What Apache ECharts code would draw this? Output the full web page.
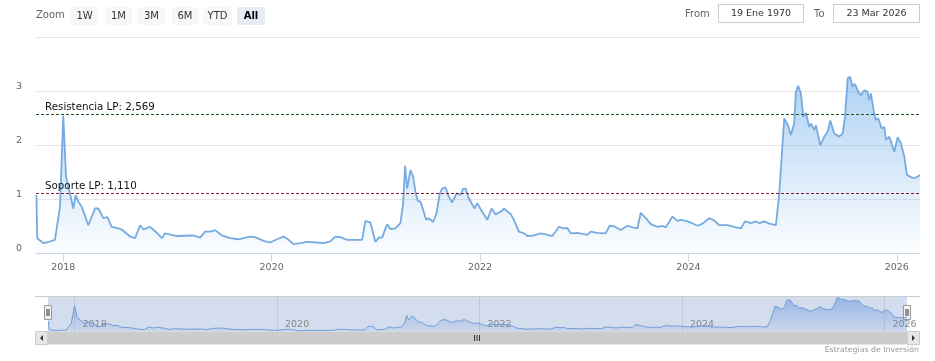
<!DOCTYPE html>
<html>
<head>
<meta charset="utf-8">
<script src="https://cdn.jsdelivr.net/npm/echarts@6/dist/echarts.min.js"></script>
<style>html,body{margin:0;padding:0;background:#fff}#c{width:935px;height:361px}</style>
</head>
<body>
<div id="c"></div>
<script>
// ---- data (decimal years) ----
const years = [2017.742,2017.750,2017.808,2017.840,2017.920,2017.937,2017.968,2018.000,2018.026,2018.064,2018.096,2018.119,2018.144,2018.177,2018.240,2018.305,2018.336,2018.384,2018.423,2018.465,2018.529,2018.561,2018.641,2018.689,2018.737,2018.769,2018.833,2018.850,2018.898,2018.946,2018.977,2019.090,2019.249,2019.314,2019.362,2019.410,2019.458,2019.522,2019.602,2019.682,2019.730,2019.794,2019.842,2019.922,2019.986,2020.051,2020.114,2020.162,2020.210,2020.275,2020.339,2020.435,2020.499,2020.563,2020.611,2020.659,2020.724,2020.787,2020.868,2020.900,2020.948,2020.996,2021.027,2021.060,2021.108,2021.140,2021.188,2021.236,2021.262,2021.281,2021.300,2021.332,2021.358,2021.380,2021.402,2021.428,2021.454,2021.483,2021.508,2021.550,2021.582,2021.614,2021.637,2021.668,2021.700,2021.733,2021.774,2021.813,2021.835,2021.861,2021.892,2021.947,2021.973,2022.021,2022.069,2022.111,2022.149,2022.213,2022.229,2022.293,2022.325,2022.373,2022.421,2022.454,2022.517,2022.581,2022.630,2022.694,2022.758,2022.805,2022.838,2022.870,2022.934,2023.030,2023.062,2023.126,2023.206,2023.244,2023.286,2023.350,2023.415,2023.463,2023.511,2023.542,2023.591,2023.639,2023.703,2023.751,2023.783,2023.847,2023.895,2023.927,2023.975,2024.023,2024.087,2024.136,2024.199,2024.247,2024.295,2024.376,2024.439,2024.504,2024.542,2024.600,2024.648,2024.680,2024.728,2024.776,2024.840,2024.872,2024.920,2024.953,2024.984,2025.016,2025.032,2025.054,2025.080,2025.102,2025.128,2025.160,2025.176,2025.208,2025.224,2025.266,2025.304,2025.337,2025.362,2025.400,2025.448,2025.481,2025.503,2025.529,2025.552,2025.575,2025.597,2025.631,2025.656,2025.688,2025.720,2025.736,2025.752,2025.778,2025.800,2025.822,2025.855,2025.880,2025.896,2025.928,2025.976,2026.009,2026.040,2026.072,2026.098,2026.137,2026.169,2026.201,2026.223];
const values = [1.08,0.28,0.19,0.20,0.25,0.25,0.86,2.55,1.42,1.11,0.83,1.08,0.96,0.86,0.52,0.83,0.83,0.65,0.67,0.49,0.46,0.44,0.31,0.28,0.52,0.44,0.49,0.50,0.38,0.28,0.37,0.32,0.33,0.29,0.40,0.40,0.43,0.33,0.28,0.26,0.28,0.31,0.30,0.23,0.20,0.26,0.31,0.25,0.17,0.19,0.21,0.20,0.19,0.22,0.31,0.30,0.25,0.25,0.25,0.60,0.57,0.21,0.29,0.29,0.54,0.45,0.46,0.56,0.93,1.62,1.20,1.54,1.42,1.14,0.97,0.96,0.80,0.62,0.65,0.58,0.74,1.11,1.20,1.22,1.05,0.94,1.11,1.08,1.19,1.20,1.02,0.83,0.93,0.77,0.62,0.83,0.72,0.79,0.83,0.73,0.62,0.40,0.37,0.32,0.33,0.37,0.35,0.32,0.49,0.46,0.47,0.37,0.38,0.34,0.40,0.38,0.37,0.51,0.50,0.43,0.51,0.48,0.46,0.75,0.65,0.54,0.49,0.51,0.48,0.68,0.60,0.62,0.60,0.57,0.51,0.55,0.65,0.61,0.52,0.52,0.49,0.46,0.59,0.56,0.59,0.56,0.59,0.55,0.52,1.11,2.50,2.38,2.19,2.41,2.99,3.10,2.96,2.53,2.60,2.34,2.40,2.28,2.37,2.00,2.16,2.25,2.46,2.22,2.16,2.22,2.53,3.24,3.27,3.09,3.14,2.99,2.93,3.02,2.99,2.84,2.96,2.65,2.47,2.50,2.31,2.34,2.10,2.16,1.88,2.15,2.04,1.79,1.45,1.41,1.39,1.42,1.45];
const yearTicks = [2018, 2020, 2022, 2024, 2026];
const yTicks = [0, 1, 2, 3, 4];
const resistance = 2.569;
const support = 1.110;
const resistanceLabel = 'Resistencia LP: 2,569';
const supportLabel = 'Soporte LP: 1,110';
const rangeButtons = ['1W', '1M', '3M', '6M', 'YTD', 'All'];
const fromDate = '19 Ene 1970';
const toDate = '23 Mar 2026';
const credit = 'Estrategias de Inversión';
const xMin = 2017.738, xMax = 2026.223;

const FONT = '"DejaVu Sans", Verdana, sans-serif';
const seriesData = years.map((y, i) => [y, values[i]]);

// ---- decorations (buttons, inputs, scrollbar) ----
const btnGeom = [[71,27],[105,27],[138,27],[172,26],[203,29],[237,28]];
const graphics = [];
graphics.push({type:'text', left:36, top:10, style:{text:'Zoom', fill:'#666', font:'10px '+FONT}});
rangeButtons.forEach((b, i) => {
  const sel = b === 'All';
  graphics.push({type:'rect', shape:{x:btnGeom[i][0], y:7, width:btnGeom[i][1], height:18, r:2},
    style:{fill: sel ? '#e6ebf5' : '#f7f7f7'}});
  graphics.push({type:'text', x:btnGeom[i][0]+btnGeom[i][1]/2, y:16,
    style:{text:b, fill: sel ? '#000' : '#333', font:(sel?'bold ':'')+'10px '+FONT, align:'center', verticalAlign:'middle'}});
});
graphics.push({type:'text', x:685, y:14, style:{text:'From', fill:'#666', font:'10px '+FONT, verticalAlign:'middle'}});
graphics.push({type:'rect', shape:{x:718.5, y:4.5, width:85, height:18}, style:{fill:'#fff', stroke:'#ccc', lineWidth:1}});
graphics.push({type:'text', x:761, y:14, style:{text:fromDate, fill:'#333', font:'9.5px '+FONT, align:'center', verticalAlign:'middle'}});
graphics.push({type:'text', x:814, y:14, style:{text:'To', fill:'#666', font:'10px '+FONT, verticalAlign:'middle'}});
graphics.push({type:'rect', shape:{x:833.5, y:4.5, width:86, height:18}, style:{fill:'#fff', stroke:'#ccc', lineWidth:1}});
graphics.push({type:'text', x:876.5, y:14, style:{text:toDate, fill:'#333', font:'9.5px '+FONT, align:'center', verticalAlign:'middle'}});
// navigator outline
graphics.push({type:'line', shape:{x1:35, y1:296.5, x2:920, y2:296.5}, style:{stroke:'#ccc', lineWidth:1}});
// scrollbar
graphics.push({type:'rect', shape:{x:35, y:331.5, width:885, height:13}, style:{fill:'#cccccc'}});
graphics.push({type:'rect', shape:{x:35.5, y:331.5, width:12, height:13}, style:{fill:'#e6e6e6', stroke:'#cccccc', lineWidth:1}});
graphics.push({type:'rect', shape:{x:907.5, y:331.5, width:12, height:13}, style:{fill:'#e6e6e6', stroke:'#cccccc', lineWidth:1}});
graphics.push({type:'polygon', shape:{points:[[43,335],[43,341],[40,338]]}, style:{fill:'#333'}});
graphics.push({type:'polygon', shape:{points:[[912,335],[912,341],[915,338]]}, style:{fill:'#333'}});
[474,476.5,479].forEach(x => graphics.push({type:'line', shape:{x1:x+0.5, y1:335, x2:x+0.5, y2:341}, style:{stroke:'#333', lineWidth:1}}));
// navigator handles
[48, 907].forEach(x => {
  graphics.push({type:'rect', shape:{x:x-3.5, y:305.5, width:7, height:14}, style:{fill:'#f2f2f2', stroke:'#999', lineWidth:1}});
  graphics.push({type:'line', shape:{x1:x-1, y1:309, x2:x-1, y2:316}, style:{stroke:'#333', lineWidth:1}});
  graphics.push({type:'line', shape:{x1:x+1, y1:309, x2:x+1, y2:316}, style:{stroke:'#333', lineWidth:1}});
});
graphics.push({type:'text', right:16, top:346, style:{text:credit, fill:'#999', font:'7.8px '+FONT}});

const chart = echarts.init(document.getElementById('c'), null, {renderer:'canvas'});
chart.setOption({
  animation: false,
  backgroundColor: '#fff',
  textStyle: {fontFamily: FONT},
  grid: [
    {left: 36, right: 15, top: 37.3, height: 216, containLabel: false},
    {left: 48, right: 28, top: 297, height: 34.5, show: true, backgroundColor: 'rgba(102,133,194,0.28)', borderWidth: 0}
  ],
  xAxis: [
    {type:'value', gridIndex:0, min:xMin, max:xMax,
     axisLine:{show:true, lineStyle:{color:'#ccd6eb'}},
     axisTick:{show:true, customValues:yearTicks, length:8, lineStyle:{color:'#ccd6eb'}},
     axisLabel:{customValues:yearTicks, formatter:v => String(v), color:'#666', fontSize:9.5, fontFamily:FONT, margin:9},
     splitLine:{show:false}},
    {type:'value', gridIndex:1, min:xMin, max:xMax,
     axisLine:{show:false},
     axisTick:{show:true, inside:true, customValues:yearTicks, length:34, lineStyle:{color:'#bfc7d9'}},
     axisLabel:{inside:true, customValues:yearTicks, formatter:v => String(v), color:'#888', fontSize:9.5, fontFamily:FONT, align:'left', padding:[0,0,0,8], margin:2},
     splitLine:{show:false}}
  ],
  yAxis: [
    {type:'value', gridIndex:0, min:0, max:4, interval:1,
     axisLine:{show:false}, axisTick:{show:false},
     axisLabel:{showMaxLabel:false, align:'left', margin:20, verticalAlign:'bottom', color:'#666', fontSize:9.5, fontFamily:FONT},
     splitLine:{lineStyle:{color:'#e6e6e6'}}},
    {type:'value', gridIndex:1, min:0.1, max:3.35, show:false, splitLine:{show:false}}
  ],
  series: [
    {type:'line', xAxisIndex:0, yAxisIndex:0, data:seriesData, showSymbol:false, smooth:false,
     lineStyle:{color:'#76abe0', width:1.8},
     areaStyle:{color:new echarts.graphic.LinearGradient(0,0,0,1,[
       {offset:0, color:'rgba(124,181,236,0.88)'},
       {offset:1, color:'rgba(124,181,236,0.04)'}])},
     markLine:{silent:true, symbol:'none',
       data:[
         {yAxis:resistance, label:{formatter:resistanceLabel},
          lineStyle:{color:'#1f5a1f', type:[3,2], width:1}},
         {yAxis:support, label:{formatter:supportLabel},
          lineStyle:{color:'#8b1a2a', type:[3,2], width:1}}
       ],
       label:{show:true, position:'insideStartTop', distance:[9,2], color:'#111', fontSize:10.3, fontFamily:FONT}
     }},
    {type:'line', xAxisIndex:1, yAxisIndex:1, data:seriesData, showSymbol:false,
     lineStyle:{color:'#6f9fd8', width:1},
     areaStyle:{color:new echarts.graphic.LinearGradient(0,0,0,1,[
       {offset:0, color:'rgba(90,140,215,0.7)'},
       {offset:1, color:'rgba(90,140,215,0.12)'}])}}
  ],
  graphic: graphics
});
</script>
</body>
</html>
